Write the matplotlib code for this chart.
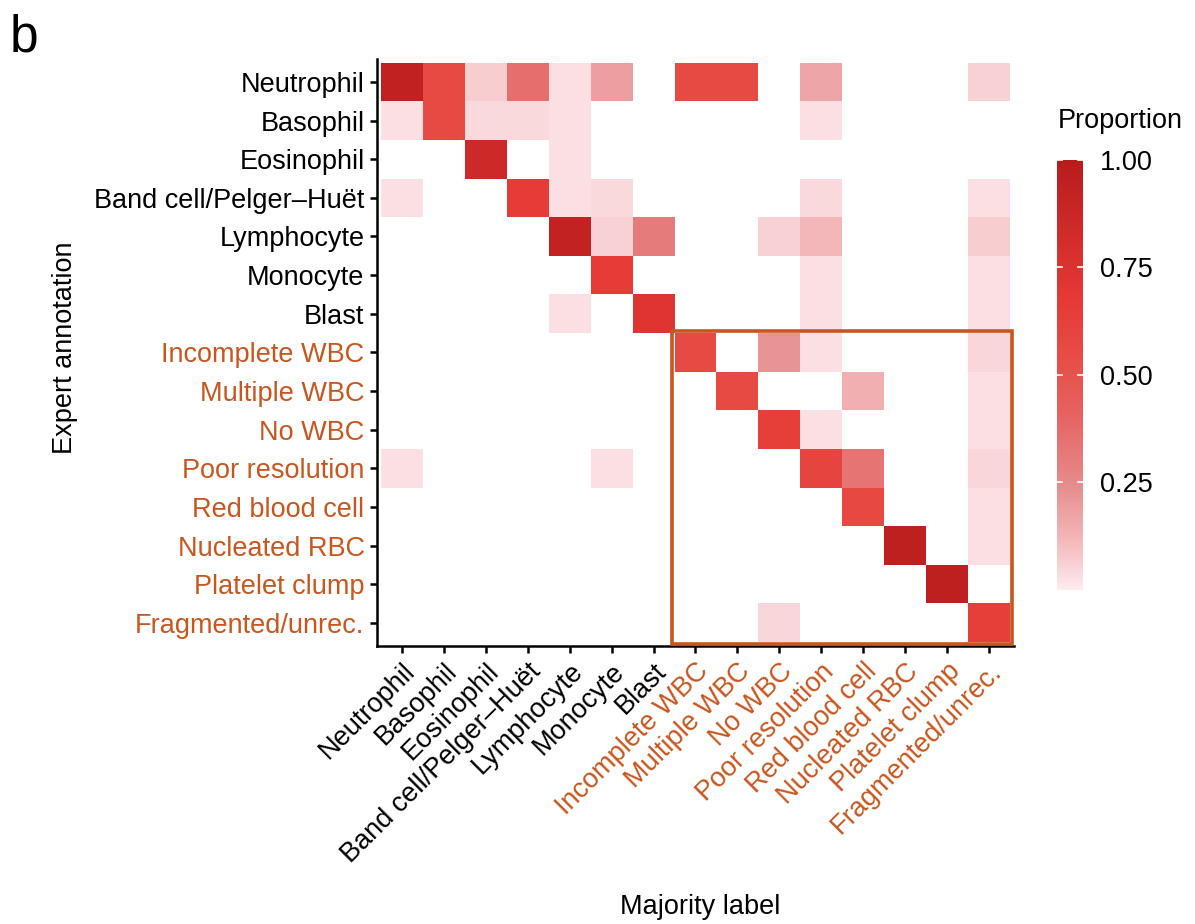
import numpy as np
import matplotlib
matplotlib.use("Agg")
import matplotlib.pyplot as plt
from matplotlib.colors import LinearSegmentedColormap
from matplotlib.patches import Rectangle

plt.rcParams['font.family'] = ['Liberation Sans', 'DejaVu Sans']

# categories (rows = expert annotation, columns = majority label)
labels = ["Neutrophil", "Basophil", "Eosinophil", "Band cell/Pelger\u2013Hu\u00ebt",
          "Lymphocyte", "Monocyte", "Blast", "Incomplete WBC", "Multiple WBC",
          "No WBC", "Poor resolution", "Red blood cell", "Nucleated RBC",
          "Platelet clump", "Fragmented/unrec."]
n_wbc = 7  # first 7 are white blood cell classes, rest highlighted

# non-empty cells: (row, col, proportion)
row_idx = [0, 0, 0, 0, 0, 0, 0, 0, 0, 0,
           1, 1, 1, 1, 1, 1,
           2, 2,
           3, 3, 3, 3, 3, 3,
           4, 4, 4, 4, 4, 4,
           5, 5, 5,
           6, 6, 6, 6,
           7, 7, 7, 7,
           8, 8, 8,
           9, 9, 9,
           10, 10, 10, 10, 10,
           11, 11,
           12, 12,
           13,
           14, 14]
col_idx = [0, 1, 2, 3, 4, 5, 7, 8, 10, 14,
           0, 1, 2, 3, 4, 10,
           2, 4,
           0, 3, 4, 5, 10, 14,
           4, 5, 6, 9, 10, 14,
           5, 10, 14,
           4, 6, 10, 14,
           7, 9, 10, 14,
           8, 11, 14,
           9, 10, 14,
           0, 5, 10, 11, 14,
           11, 14,
           12, 14,
           13,
           9, 14]
prop = [0.93, 0.56, 0.07, 0.36, 0.03, 0.19, 0.56, 0.56, 0.17, 0.06,
        0.03, 0.56, 0.04, 0.04, 0.03, 0.03,
        0.85, 0.03,
        0.03, 0.66, 0.03, 0.04, 0.04, 0.03,
        0.92, 0.06, 0.31, 0.06, 0.12, 0.07,
        0.66, 0.03, 0.03,
        0.03, 0.72, 0.03, 0.03,
        0.56, 0.22, 0.03, 0.05,
        0.56, 0.14, 0.03,
        0.64, 0.03, 0.03,
        0.03, 0.03, 0.60, 0.34, 0.05,
        0.57, 0.03,
        0.95, 0.03,
        0.95,
        0.05, 0.64]

orange = "#C8561E"

mat = np.full((15, 15), np.nan)
for r, c, v in zip(row_idx, col_idx, prop):
    mat[r, c] = v
mat = np.ma.masked_invalid(mat)

cmap = LinearSegmentedColormap.from_list(
    "prop",
    [(0.0, "#FDEBEF"), (0.12, "#F3B5B8"), (0.25, "#E58A8A"), (0.4, "#E56562"),
     (0.55, "#E74B44"), (0.68, "#E53935"), (0.8, "#D42E2C"), (1.0, "#B71C1C")])

fig = plt.figure(figsize=(11.95, 9.24), dpi=100)
ax = fig.add_axes([0.3155, 0.3009, 0.533, 0.6355])

edges = np.arange(16) - 0.5
mesh = ax.pcolormesh(edges, edges, mat, cmap=cmap, vmin=0, vmax=1)
ax.set_xlim(-0.6, 14.6)
ax.set_ylim(14.6, -0.6)

ax.add_patch(Rectangle((6.45, 6.45), 8.1, 8.1, fill=False,
                       edgecolor=orange, linewidth=2.6, zorder=5))

ax.set_xticks(range(15))
ax.set_yticks(range(15))
ax.set_xticklabels(labels, rotation=45, ha="right", va="top",
                   rotation_mode="anchor", fontsize=19.5)
ax.set_yticklabels(labels, fontsize=19.5)
for i, t in enumerate(ax.get_xticklabels()):
    if i >= n_wbc:
        t.set_color(orange)
for i, t in enumerate(ax.get_yticklabels()):
    if i >= n_wbc:
        t.set_color(orange)

for s in ["top", "right"]:
    ax.spines[s].set_visible(False)
for s in ["left", "bottom"]:
    ax.spines[s].set_linewidth(1.8)
ax.tick_params(length=5, width=1.8, pad=4)

fig.text(0.586, 0.004, "Majority label", fontsize=19.5, ha="center", va="bottom")
fig.text(0.054, 0.624, "Expert annotation", fontsize=19.5, rotation=90,
         ha="center", va="center")
fig.text(0.008, 0.985, "b", fontsize=37, ha="left", va="top")

# colour bar
cax = fig.add_axes([0.8845, 0.3615, 0.0218, 0.4655])
cb = fig.colorbar(mesh, cax=cax)
cb.outline.set_visible(False)
cb.set_ticks([0.25, 0.5, 0.75, 1.0])
cb.set_ticklabels(["0.25", "0.50", "0.75", "1.00"])
cax.tick_params(length=0, labelsize=19.5, pad=12)
for v in [0.25, 0.5, 0.75, 1.0]:
    cax.plot([0, 0.2], [v, v], color="white", lw=1.2, transform=cax.get_yaxis_transform())
    cax.plot([0.8, 1.0], [v, v], color="white", lw=1.2, transform=cax.get_yaxis_transform())
fig.text(0.885, 0.855, "Proportion", fontsize=19.5, ha="left", va="bottom")

fig.savefig("out.png", dpi=100)
